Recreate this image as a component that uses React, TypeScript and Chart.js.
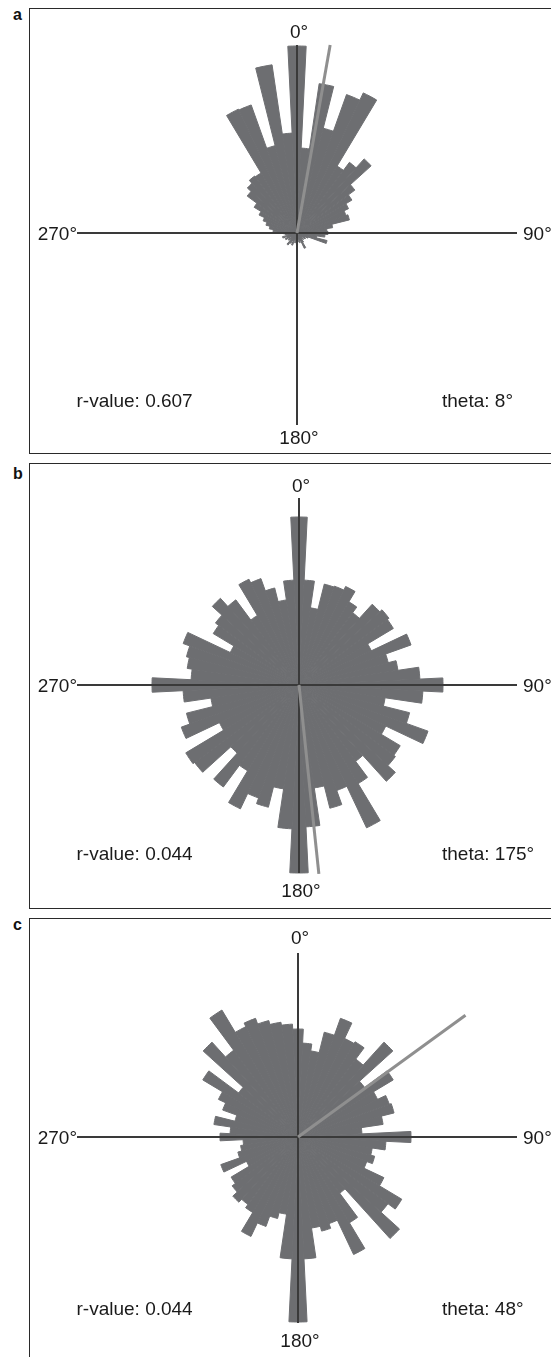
import React, { useEffect, useRef } from "react";
import { Chart, registerables } from "chart.js";

Chart.register(...registerables);

// ---------- data ----------
const BIN_COUNT = 64;
const BIN_WIDTH_DEG = 360 / BIN_COUNT;
const binLabels: string[] = Array.from({ length: BIN_COUNT }, (_, i) => `${(i * BIN_WIDTH_DEG).toFixed(2)}°`);

const panelLetters = ["a", "b", "c"];
const directionLabels = ["0°", "90°", "180°", "270°"];
const rValueLabels = ["0.607", "0.044", "0.044"];
const thetaLabels = [8, 175, 48];
// mean-direction line as drawn in the picture (deg clockwise from 0°, length in radial units)
const meanLineAngles = [10, 174, 54];
const meanLineLengths = [191, 190, 207];

// radial length of each 5.625° bin, clockwise from 0°
const panelAValues = [
  187, 85, 151, 108, 147, 155, 78, 88, 100, 72, 64, 57, 52, 54, 36, 30,
  31, 28, 20, 31, 12, 8, 10, 6, 9, 7, 11, 17, 8, 10, 6, 9,
  12, 7, 10, 6, 13, 8, 12, 15, 9, 11, 7, 13, 10, 15, 9, 12,
  14, 24, 28, 32, 36, 42, 50, 62, 67, 71, 70, 137, 136, 90, 170, 100,
];
const panelBValues = [
  168, 105, 78, 104, 105, 109, 97, 90, 109, 112, 110, 80, 119, 92, 100, 121,
  144, 124, 87, 114, 137, 96, 118, 120, 130, 95, 115, 158, 112, 127, 104, 142,
  188, 144, 105, 126, 120, 137, 100, 127, 92, 130, 132, 88, 125, 116, 89, 116,
  147, 108, 113, 116, 123, 76, 100, 104, 117, 106, 81, 117, 113, 100, 86, 105,
];
const panelCValues = [
  108, 94, 87, 108, 126, 109, 111, 97, 128, 83, 111, 88, 97, 99, 86, 64,
  113, 88, 75, 79, 73, 95, 121, 112, 137, 70, 100, 130, 92, 97, 92, 122,
  185, 122, 78, 84, 95, 110, 88, 84, 88, 82, 78, 57, 82, 62, 58, 55,
  78, 68, 85, 65, 80, 88, 111, 74, 128, 108, 148, 122, 126, 120, 116, 113,
];
const panelValues = [panelAValues, panelBValues, panelCValues];

// ---------- styling / layout ----------
const BAR_COLOR = "#6d6e71";
const AXIS_COLOR = "#3a3a3a";
const MEAN_COLOR = "#8f8f8f";
const TEXT_COLOR = "#1a1a1a";
const FONT = '"Liberation Sans", Arial, Helvetica, sans-serif';
const SCALE_MAX = 210;
const CANVAS_W = 460;
const CANVAS_H = 420;
const H_LEFT = 77;
const H_RIGHT = 517;

const LAYOUTS = [
  { frameTop: 8, frameH: 446, cx: 297, cy: 233, zeroY: 31.7, bottomY: 437, textY: 400, letterBase: 20, vUp: 188, vDown: 192 },
  { frameTop: 463, frameH: 446, cx: 299, cy: 685, zeroY: 485.7, bottomY: 890, textY: 853, letterBase: 479, vUp: 187, vDown: 188 },
  { frameTop: 918, frameH: 446, cx: 298, cy: 1137, zeroY: 937, bottomY: 1340, textY: 1308, letterBase: 930, vUp: 184, vDown: 186 },
];

function overlayPlugin(index: number) {
  return {
    id: "roseOverlay" + index,
    afterDatasetsDraw(chart: any) {
      const r = chart.scales.r;
      const ctx = chart.ctx as CanvasRenderingContext2D;
      const L = LAYOUTS[index];
      const cx = r.xCenter;
      const cy = r.yCenter;
      const d = (v: number) => r.getDistanceFromCenterForValue(v);
      ctx.save();
      ctx.strokeStyle = AXIS_COLOR;
      ctx.lineWidth = 2;
      ctx.beginPath();
      ctx.moveTo(cx - d(L.cx - H_LEFT), cy);
      ctx.lineTo(cx + d(H_RIGHT - L.cx), cy);
      ctx.moveTo(cx, cy - d(L.vUp));
      ctx.lineTo(cx, cy + d(L.vDown));
      ctx.stroke();

      const ang = (meanLineAngles[index] * Math.PI) / 180;
      const len = d(meanLineLengths[index]);
      ctx.strokeStyle = MEAN_COLOR;
      ctx.lineWidth = 3;
      ctx.beginPath();
      ctx.moveTo(cx, cy);
      ctx.lineTo(cx + len * Math.sin(ang), cy - len * Math.cos(ang));
      ctx.stroke();
      ctx.restore();
    },
  };
}

function RosePanel({ index }: { index: number }) {
  const ref = useRef<HTMLCanvasElement | null>(null);
  const L = LAYOUTS[index];

  useEffect(() => {
    if (!ref.current) return;
    const chart = new Chart(ref.current, {
      type: "polarArea",
      data: {
        labels: binLabels,
        datasets: [
          {
            data: panelValues[index],
            backgroundColor: BAR_COLOR,
            borderColor: BAR_COLOR,
            borderWidth: 1,
          },
        ],
      },
      options: {
        responsive: false,
        animation: false,
        events: [],
        layout: { padding: 0 },
        plugins: { legend: { display: false }, tooltip: { enabled: false } },
        scales: {
          r: {
            min: 0,
            max: SCALE_MAX,
            startAngle: -BIN_WIDTH_DEG / 2,
            ticks: { display: false },
            grid: { display: false },
            angleLines: { display: false },
            pointLabels: { display: false },
          },
        },
      } as any,
      plugins: [overlayPlugin(index)],
    });
    return () => chart.destroy();
  }, [index]);

  const txt: React.CSSProperties = {
    position: "absolute",
    fontFamily: FONT,
    fontSize: 19,
    lineHeight: "19px",
    color: TEXT_COLOR,
    whiteSpace: "nowrap",
  };
  const off = 9.3;

  return (
    <>
      <div
        style={{
          position: "absolute",
          left: 29,
          top: L.frameTop,
          width: 620,
          height: L.frameH,
          border: "1px solid #2a2a2a",
          boxSizing: "border-box",
        }}
      />
      <div
        style={{
          position: "absolute",
          left: 13,
          top: L.letterBase - 13.5,
          fontFamily: FONT,
          fontWeight: "bold",
          fontSize: 16,
          lineHeight: "16px",
          color: "#111",
        }}
      >
        {panelLetters[index]}
      </div>
      <canvas
        ref={ref}
        width={CANVAS_W}
        height={CANVAS_H}
        style={{
          position: "absolute",
          left: L.cx - CANVAS_W / 2,
          top: L.cy - CANVAS_H / 2,
          width: CANVAS_W,
          height: CANVAS_H,
        }}
      />
      <div style={{ ...txt, left: L.cx + 2, top: L.zeroY - off, transform: "translateX(-50%)" }}>{directionLabels[0]}</div>
      <div style={{ ...txt, left: 523, top: L.cy - off }}>{directionLabels[1]}</div>
      <div style={{ ...txt, left: L.cx + 2, top: L.bottomY - off, transform: "translateX(-50%)" }}>{directionLabels[2]}</div>
      <div style={{ ...txt, left: H_LEFT, top: L.cy - off, transform: "translateX(-100%)" }}>{directionLabels[3]}</div>
      <div style={{ ...txt, left: 76.5, top: L.textY - off }}>{`r-value: ${rValueLabels[index]}`}</div>
      <div style={{ ...txt, left: 442, top: L.textY - off }}>{`theta: ${thetaLabels[index]}°`}</div>
    </>
  );
}

export default function App() {
  return (
    <div
      style={{
        position: "absolute",
        left: 0,
        top: 0,
        width: 551,
        height: 1357,
        overflow: "hidden",
        background: "#fff",
      }}
    >
      {[0, 1, 2].map((i) => (
        <RosePanel key={i} index={i} />
      ))}
    </div>
  );
}
